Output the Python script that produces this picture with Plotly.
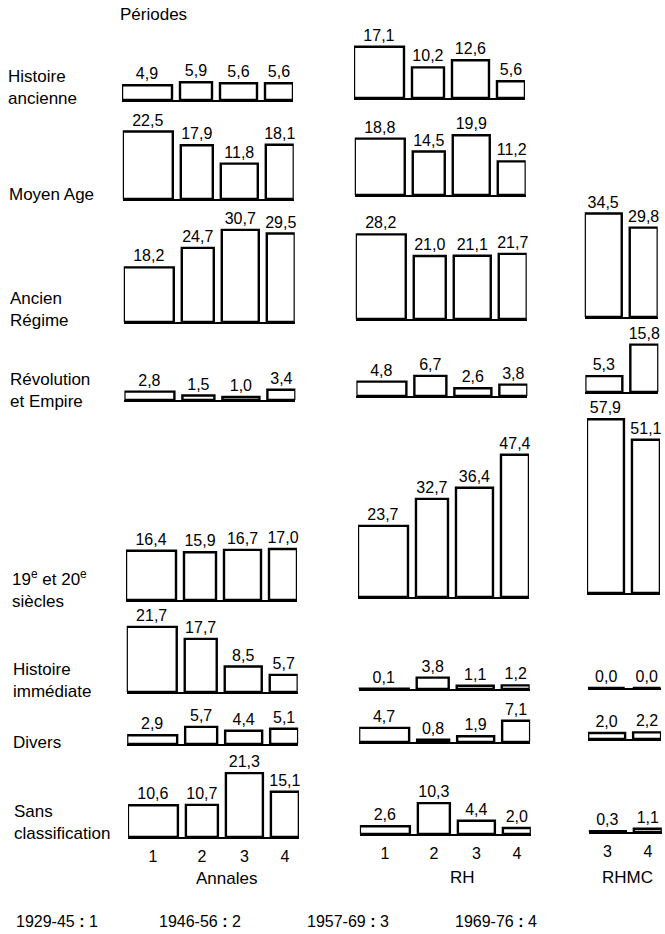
import plotly.graph_objects as go

W, H = 665, 934

# ---------------- data ----------------
row_labels = ["Histoire<br>ancienne", "Moyen Age", "Ancien<br>Régime", "Révolution<br>et Empire",
              "19<sup>e</sup> et 20<sup>e</sup><br>siècles", "Histoire<br>immédiate", "Divers",
              "Sans<br>classification"]
journals = ["Annales", "RH", "RHMC"]
annales_periods = ["1", "2", "3", "4"]
rh_periods = ["1", "2", "3", "4"]
rhmc_periods = ["3", "4"]
period_years = ["1929-45", "1946-56", "1957-69", "1969-76"]
period_codes = ["1", "2", "3", "4"]

annales_values = [
    [4.9, 5.9, 5.6, 5.6],
    [22.5, 17.9, 11.8, 18.1],
    [18.2, 24.7, 30.7, 29.5],
    [2.8, 1.5, 1.0, 3.4],
    [16.4, 15.9, 16.7, 17.0],
    [21.7, 17.7, 8.5, 5.7],
    [2.9, 5.7, 4.4, 5.1],
    [10.6, 10.7, 21.3, 15.1],
]
rh_values = [
    [17.1, 10.2, 12.6, 5.6],
    [18.8, 14.5, 19.9, 11.2],
    [28.2, 21.0, 21.1, 21.7],
    [4.8, 6.7, 2.6, 3.8],
    [23.7, 32.7, 36.4, 47.4],
    [0.1, 3.8, 1.1, 1.2],
    [4.7, 0.8, 1.9, 7.1],
    [2.6, 10.3, 4.4, 2.0],
]
rhmc_values = [
    None,
    None,
    [34.5, 29.8],
    [5.3, 15.8],
    [57.9, 51.1],
    [0.0, 0.0],
    [2.0, 2.2],
    [0.3, 1.1],
]

# ---------------- layout constants (pixels) ----------------
PXU = 3.0                      # pixels per percentage point
BAR_W = {"1": 50, "2": 32, "3": 37, "4": 28}
GAP = 8
SKEW = 0.008
COL_LEFT = [122, 354, 583]
BASELINES = [
    [100, 199, 322, 400, 600, 692, 744, 837],
    [98, 195, 319, 396, 597, 689, 742, 834],
    [None, None, 317, 392, 593, 688, 739, 832],
]
FONT = "Liberation Sans, Arial, sans-serif"


def fmt(v):
    return f"{v:.1f}".replace(".", ",")


def px_x(px):
    return px / W


def px_y(py):
    return 1 - py / H


fig = go.Figure()
layout = {}
columns = [(annales_periods, annales_values), (rh_periods, rh_values), (rhmc_periods, rhmc_values)]
idx = 0
for c, (periods, values) in enumerate(columns):
    for r in range(8):
        vals = values[r]
        if vals is None:
            continue
        idx += 1
        widths = [BAR_W[p] for p in periods]
        centers = []
        pos = 0.0
        for w in widths:
            centers.append(pos + w / 2)
            pos += w + GAP
        total = pos - GAP
        base = BASELINES[c][r]
        prev = BASELINES[c][r - 1] if r > 0 else None
        top = (prev + 3) if prev is not None else (25 if r == 0 else 200)
        left = COL_LEFT[c] + SKEW * (base - 100)
        xa = "xaxis" if idx == 1 else f"xaxis{idx}"
        ya = "yaxis" if idx == 1 else f"yaxis{idx}"
        xr = "x" if idx == 1 else f"x{idx}"
        yr = "y" if idx == 1 else f"y{idx}"
        fig.add_trace(go.Bar(
            x=centers, y=vals, width=widths,
            text=[fmt(v) for v in vals], textposition="outside",
            cliponaxis=False, constraintext="none",
            textfont=dict(size=16, color="black", family=FONT),
            marker=dict(color="white", line=dict(color="black", width=2.4)),
            xaxis=xr, yaxis=yr, showlegend=False, hoverinfo="skip",
        ))
        bottom = r == 7
        layout[xa] = dict(
            domain=[px_x(left), px_x(left + total)], range=[0, total], anchor=yr,
            showgrid=False, zeroline=False, showline=True, linecolor="black", linewidth=2,
            ticks="", showticklabels=bottom, tickvals=centers, ticktext=periods,
            ticklabelstandoff=4,
            tickfont=dict(size=16, color="black", family=FONT), fixedrange=True,
        )
        layout[ya] = dict(
            domain=[px_y(base), px_y(top)], range=[0, (base - top) / PXU], anchor=xr,
            visible=False, fixedrange=True,
        )

annotations = []
# row labels
label_y = [87, 194, 309.5, 390, 588.5, 680.5, 742, 822.5]
for lab, yy in zip(row_labels, label_y):
    annotations.append(dict(
        text=lab, x=px_x(6 + SKEW * (yy - 87)), y=px_y(yy), xref="paper", yref="paper",
        xanchor="left", yanchor="middle", align="left", showarrow=False,
        font=dict(size=17, color="black", family=FONT),
    ))
annotations.append(dict(
    text="Périodes", x=px_x(118), y=px_y(14), xref="paper", yref="paper",
    xanchor="left", yanchor="middle", showarrow=False,
    font=dict(size=17, color="black", family=FONT),
))
# journal titles
for name, xx, yy in zip(journals, [226, 462, 627], [878, 877, 877]):
    annotations.append(dict(
        text=name, x=px_x(xx), y=px_y(yy), xref="paper", yref="paper",
        xanchor="center", yanchor="middle", showarrow=False,
        font=dict(size=17, color="black", family=FONT),
    ))
# period legend
for yrs, code, xx in zip(period_years, period_codes, [14, 157, 305, 453]):
    annotations.append(dict(
        text=f"{yrs} <b>:</b> {code}", x=px_x(xx), y=px_y(921), xref="paper", yref="paper",
        xanchor="left", yanchor="middle", showarrow=False,
        font=dict(size=16, color="black", family=FONT),
    ))

fig.update_layout(
    width=W, height=H, autosize=False,
    margin=dict(l=0, r=0, t=0, b=0),
    paper_bgcolor="white", plot_bgcolor="rgba(0,0,0,0)",
    annotations=annotations, bargap=0,
    font=dict(family=FONT, color="black"),
    **layout,
)

fig.write_html(
    "out.html",
    config={"displayModeBar": False, "staticPlot": True},
    post_script="document.body.style.margin='0px';document.body.style.overflow='hidden';",
)
